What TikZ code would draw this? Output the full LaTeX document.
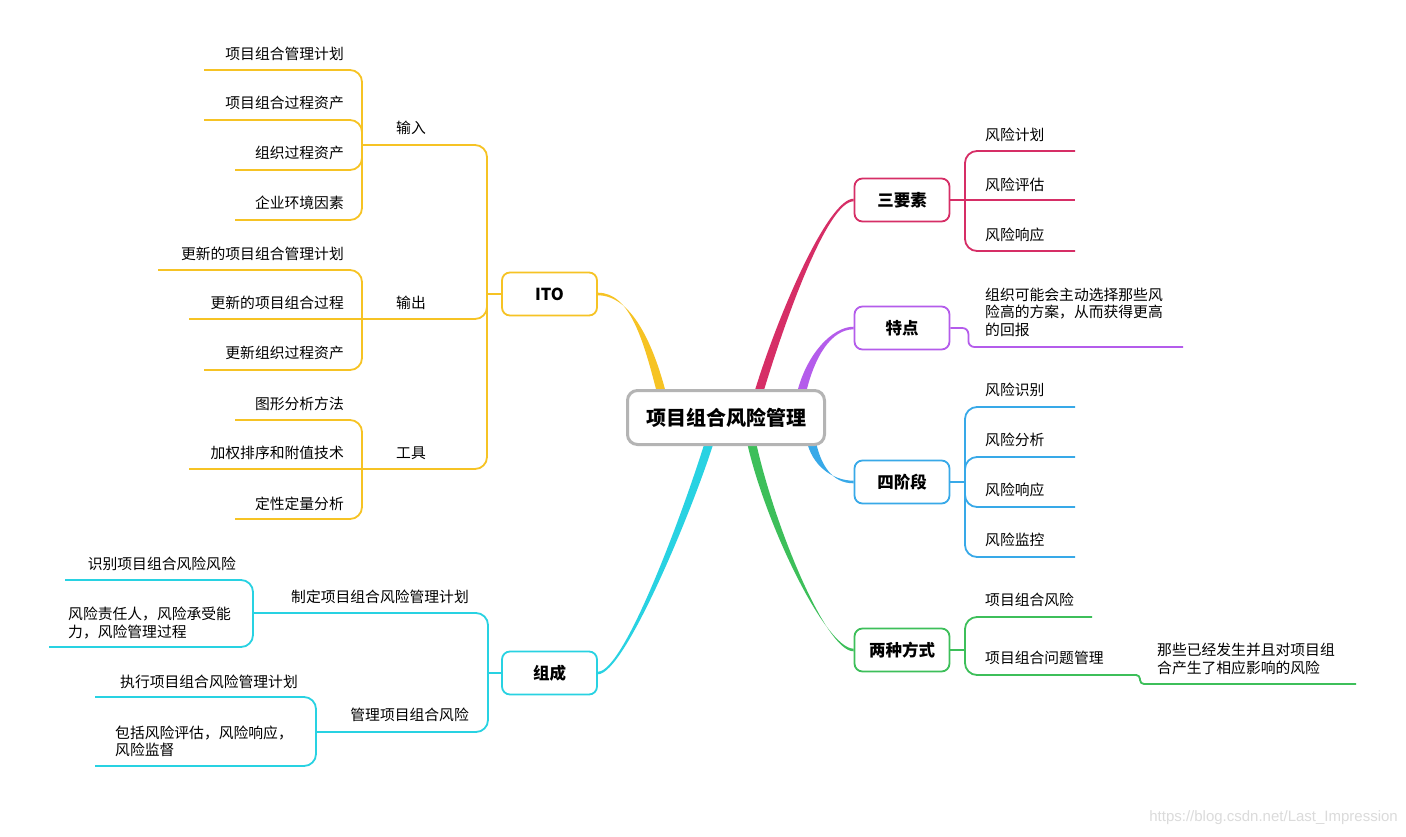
\documentclass[tikz,border=0pt]{standalone}
\usepackage{fontspec}
\setmainfont{Noto Sans CJK SC}
\newfontfamily\wmfont{Liberation Sans}
\usetikzlibrary{calc}
\pgfdeclarelayer{bg}
\pgfsetlayers{bg,main}
\definecolor{cYel}{HTML}{F6C324}
\definecolor{cRed}{HTML}{D62E66}
\definecolor{cPur}{HTML}{B45CEB}
\definecolor{cBlue}{HTML}{38A9E8}
\definecolor{cGrn}{HTML}{3DBF5A}
\definecolor{cCyan}{HTML}{28D2E2}
\definecolor{cGray}{HTML}{B4B4B4}
\tikzset{
 topic/.style={draw, line width=1.8pt, rounded corners=8pt, fill=white, minimum width=95pt, minimum height=43pt, inner sep=0pt, font=\bfseries\fontsize{16.5}{20}\selectfont},
 leaf/.style={inner sep=0pt, font=\fontsize{14.8}{17.6}\selectfont},
 link/.style={line width=1.8pt, rounded corners=12pt},
}
\newcommand\taper[5]{%
 \fill[#1] ($#2+(-4.5,0)$) .. controls ($#3+(-4.5,0)$) and ($#4+(0,-1.3)$) .. ($#5+(0,-1.3)$) -- ($#5+(0,1.3)$) .. controls ($#4+(0,1.3)$) and ($#3+(4.5,0)$) .. ($#2+(4.5,0)$) -- cycle;}
\begin{document}
\begin{tikzpicture}[x=1pt,y=-1pt]
\useasboundingbox (0,0) rectangle (1406,836);
% central and main topics
\node[topic, draw=cGray, line width=3pt, rounded corners=10pt, minimum width=197pt, minimum height=54pt, font=\bfseries\fontsize{20}{24}\selectfont] (C) at (726,417.5) {项目组合风险管理};
\node[topic, draw=cYel] (ito) at (549.5,294) {ITO};
\node[topic, draw=cCyan] (zc) at (549.5,673) {组成};
\node[topic, draw=cRed] (sys) at (902,200) {三要素};
\node[topic, draw=cPur] (td) at (902,328) {特点};
\node[topic, draw=cBlue] (sjd) at (902,482) {四阶段};
\node[topic, draw=cGrn] (lzfs) at (902,650) {两种方式};
% branch start points on the central box
\coordinate (aITO) at ($(C.north west)!0.18!(C.north east)+(0,6)$);
\coordinate (aSYS) at ($(C.north west)!0.66!(C.north east)+(0,6)$);
\coordinate (aTD) at ($(C.north west)!0.875!(C.north east)+(0,6)$);
\coordinate (aSJD) at ($(C.south west)!0.925!(C.south east)+(0,-6)$);
\coordinate (aLZ) at ($(C.south west)!0.625!(C.south east)+(0,-6)$);
\coordinate (aZC) at ($(C.south west)!0.42!(C.south east)+(0,-6)$);
\begin{pgfonlayer}{bg}
\fill[white] (0,0) rectangle (1406,836);
\taper{cYel}{(aITO)}{(648,340)}{(630,294)}{(ito.east)}
\taper{cRed}{(aSYS)}{(782,315)}{(828,200)}{(sys.west)}
\taper{cPur}{(aTD)}{(810,355)}{(832,328)}{(td.west)}
\taper{cBlue}{(aSJD)}{(816,465)}{(832,482)}{(sjd.west)}
\taper{cGrn}{(aLZ)}{(768,520)}{(825,650)}{(lzfs.west)}
\taper{cCyan}{(aZC)}{(690,505)}{(625,673)}{(zc.east)}
\end{pgfonlayer}
% ---------- ITO ----------
\coordinate (itoJ) at (487,294);
\coordinate (inJ) at (362,145);
\coordinate (outJ) at (362,319);
\coordinate (toolJ) at (362,469);
\draw[link,cYel] (ito.west) -- (itoJ);
\draw[link,cYel] (itoJ) |- (inJ);
\draw[link,cYel] (itoJ) |- (outJ);
\draw[link,cYel] (itoJ) |- (toolJ);
\node[leaf] (in) at (411,128) {输入};
\node[leaf] (out) at (411,303) {输出};
\node[leaf] (tool) at (411,453) {工具};
\coordinate (g1) at (204,70);
\coordinate (g2) at (204,120);
\coordinate (g3) at (235,170);
\coordinate (g4) at (235,220);
\draw[link,cYel] (inJ) |- (g1);
\draw[link,cYel] (inJ) |- (g2);
\draw[link,cYel] (inJ) |- (g3);
\draw[link,cYel] (inJ) |- (g4);
\node[leaf,anchor=east] (t1) at (344,54) {项目组合管理计划};
\node[leaf,anchor=east] (t2) at (344,103) {项目组合过程资产};
\node[leaf,anchor=east] (t3) at (344,153) {组织过程资产};
\node[leaf,anchor=east] (t4) at (344,203) {企业环境因素};
\coordinate (g5) at (158,270);
\coordinate (g6) at (189,319);
\coordinate (g7) at (204,370);
\draw[link,cYel] (outJ) |- (g5);
\draw[link,cYel] (outJ) -- (g6);
\draw[link,cYel] (outJ) |- (g7);
\node[leaf,anchor=east] (t5) at (344,254) {更新的项目组合管理计划};
\node[leaf,anchor=east] (t6) at (344,303) {更新的项目组合过程};
\node[leaf,anchor=east] (t7) at (344,353) {更新组织过程资产};
\coordinate (g8) at (235,420);
\coordinate (g9) at (189,469);
\coordinate (g10) at (235,519);
\draw[link,cYel] (toolJ) |- (g8);
\draw[link,cYel] (toolJ) -- (g9);
\draw[link,cYel] (toolJ) |- (g10);
\node[leaf,anchor=east] (t8) at (344,404) {图形分析方法};
\node[leaf,anchor=east] (t9) at (344,453) {加权排序和附值技术};
\node[leaf,anchor=east] (t10) at (344,504) {定性定量分析};
% ---------- 组成 ----------
\coordinate (zcJ) at (488,673);
\coordinate (zdJ) at (253,613);
\coordinate (glJ) at (316,732);
\draw[link,cCyan] (zc.west) -- (zcJ);
\draw[link,cCyan] (zcJ) |- (zdJ);
\draw[link,cCyan] (zcJ) |- (glJ);
\node[leaf,anchor=east] (zd) at (469,597) {制定项目组合风险管理计划};
\node[leaf,anchor=east] (gl) at (469,715) {管理项目组合风险};
\coordinate (z1) at (65,580);
\coordinate (z2) at (49,647);
\coordinate (z3) at (95,697);
\coordinate (z4) at (95,766);
\draw[link,cCyan] (zdJ) |- (z1);
\draw[link,cCyan] (zdJ) |- (z2);
\draw[link,cCyan] (glJ) |- (z3);
\draw[link,cCyan] (glJ) |- (z4);
\node[leaf,anchor=east] (s1) at (236,564) {识别项目组合风险风险};
\node[leaf,anchor=west,align=left] (s2) at (68,623) {风险责任人，风险承受能\\力，风险管理过程};
\node[leaf,anchor=east] (s3) at (298,682) {执行项目组合风险管理计划};
\node[leaf,anchor=west,align=left] (s4) at (115,741.5) {包括风险评估，风险响应，\\风险监督};
% ---------- 三要素 ----------
\coordinate (sysJ) at (965,200);
\coordinate (r1) at (1075,151);
\coordinate (r2) at (1075,200);
\coordinate (r3) at (1075,251);
\draw[link,cRed] (sys.east) -- (r2);
\draw[link,cRed] (sysJ) |- (r1);
\draw[link,cRed] (sysJ) |- (r3);
\node[leaf,anchor=west] (x1) at (985,135) {风险计划};
\node[leaf,anchor=west] (x2) at (985,185) {风险评估};
\node[leaf,anchor=west] (x3) at (985,235) {风险响应};
% ---------- 特点 ----------
\coordinate (tdE) at (1183,347);
\draw[line width=1.8pt,rounded corners=6pt,cPur] (td.east) -- ++(18,0) |- (tdE);
\node[leaf,anchor=west,align=left] (tdt) at (985,312) {组织可能会主动选择那些风\\险高的方案，从而获得更高\\的回报};
% ---------- 四阶段 ----------
\coordinate (sjdJ) at (965,482);
\coordinate (p1) at (1075,407);
\coordinate (p2) at (1075,457);
\coordinate (p3) at (1075,507);
\coordinate (p4) at (1075,557);
\draw[link,cBlue] (sjd.east) -- (sjdJ);
\draw[link,cBlue] (sjdJ) |- (p1);
\draw[link,cBlue] (sjdJ) |- (p2);
\draw[link,cBlue] (sjdJ) |- (p3);
\draw[link,cBlue] (sjdJ) |- (p4);
\node[leaf,anchor=west] (y1) at (985,390) {风险识别};
\node[leaf,anchor=west] (y2) at (985,440) {风险分析};
\node[leaf,anchor=west] (y3) at (985,490) {风险响应};
\node[leaf,anchor=west] (y4) at (985,540) {风险监控};
% ---------- 两种方式 ----------
\coordinate (lzJ) at (965,650);
\coordinate (w1) at (1092,617);
\coordinate (w2) at (1137,675);
\coordinate (w3) at (1356,684);
\draw[link,cGrn] (lzfs.east) -- (lzJ);
\draw[link,cGrn] (lzJ) |- (w1);
\draw[link,cGrn] (lzJ) |- (w2);
\draw[line width=1.8pt,rounded corners=4pt,cGrn] (w2) -- ++(3,0) |- (w3);
\node[leaf,anchor=west] (v1) at (985,600) {项目组合风险};
\node[leaf,anchor=west] (v2) at (985,658) {项目组合问题管理};
\node[leaf,anchor=west,align=left] (v3) at (1157,659) {那些已经发生并且对项目组\\合产生了相应影响的风险};
% watermark
\node[anchor=east,inner sep=0pt,text=black!14,font=\wmfont\fontsize{15}{15}\selectfont] (wm) at (1398,818) {https://blog.csdn.net/Last\_Impression};
\end{tikzpicture}
\end{document}
